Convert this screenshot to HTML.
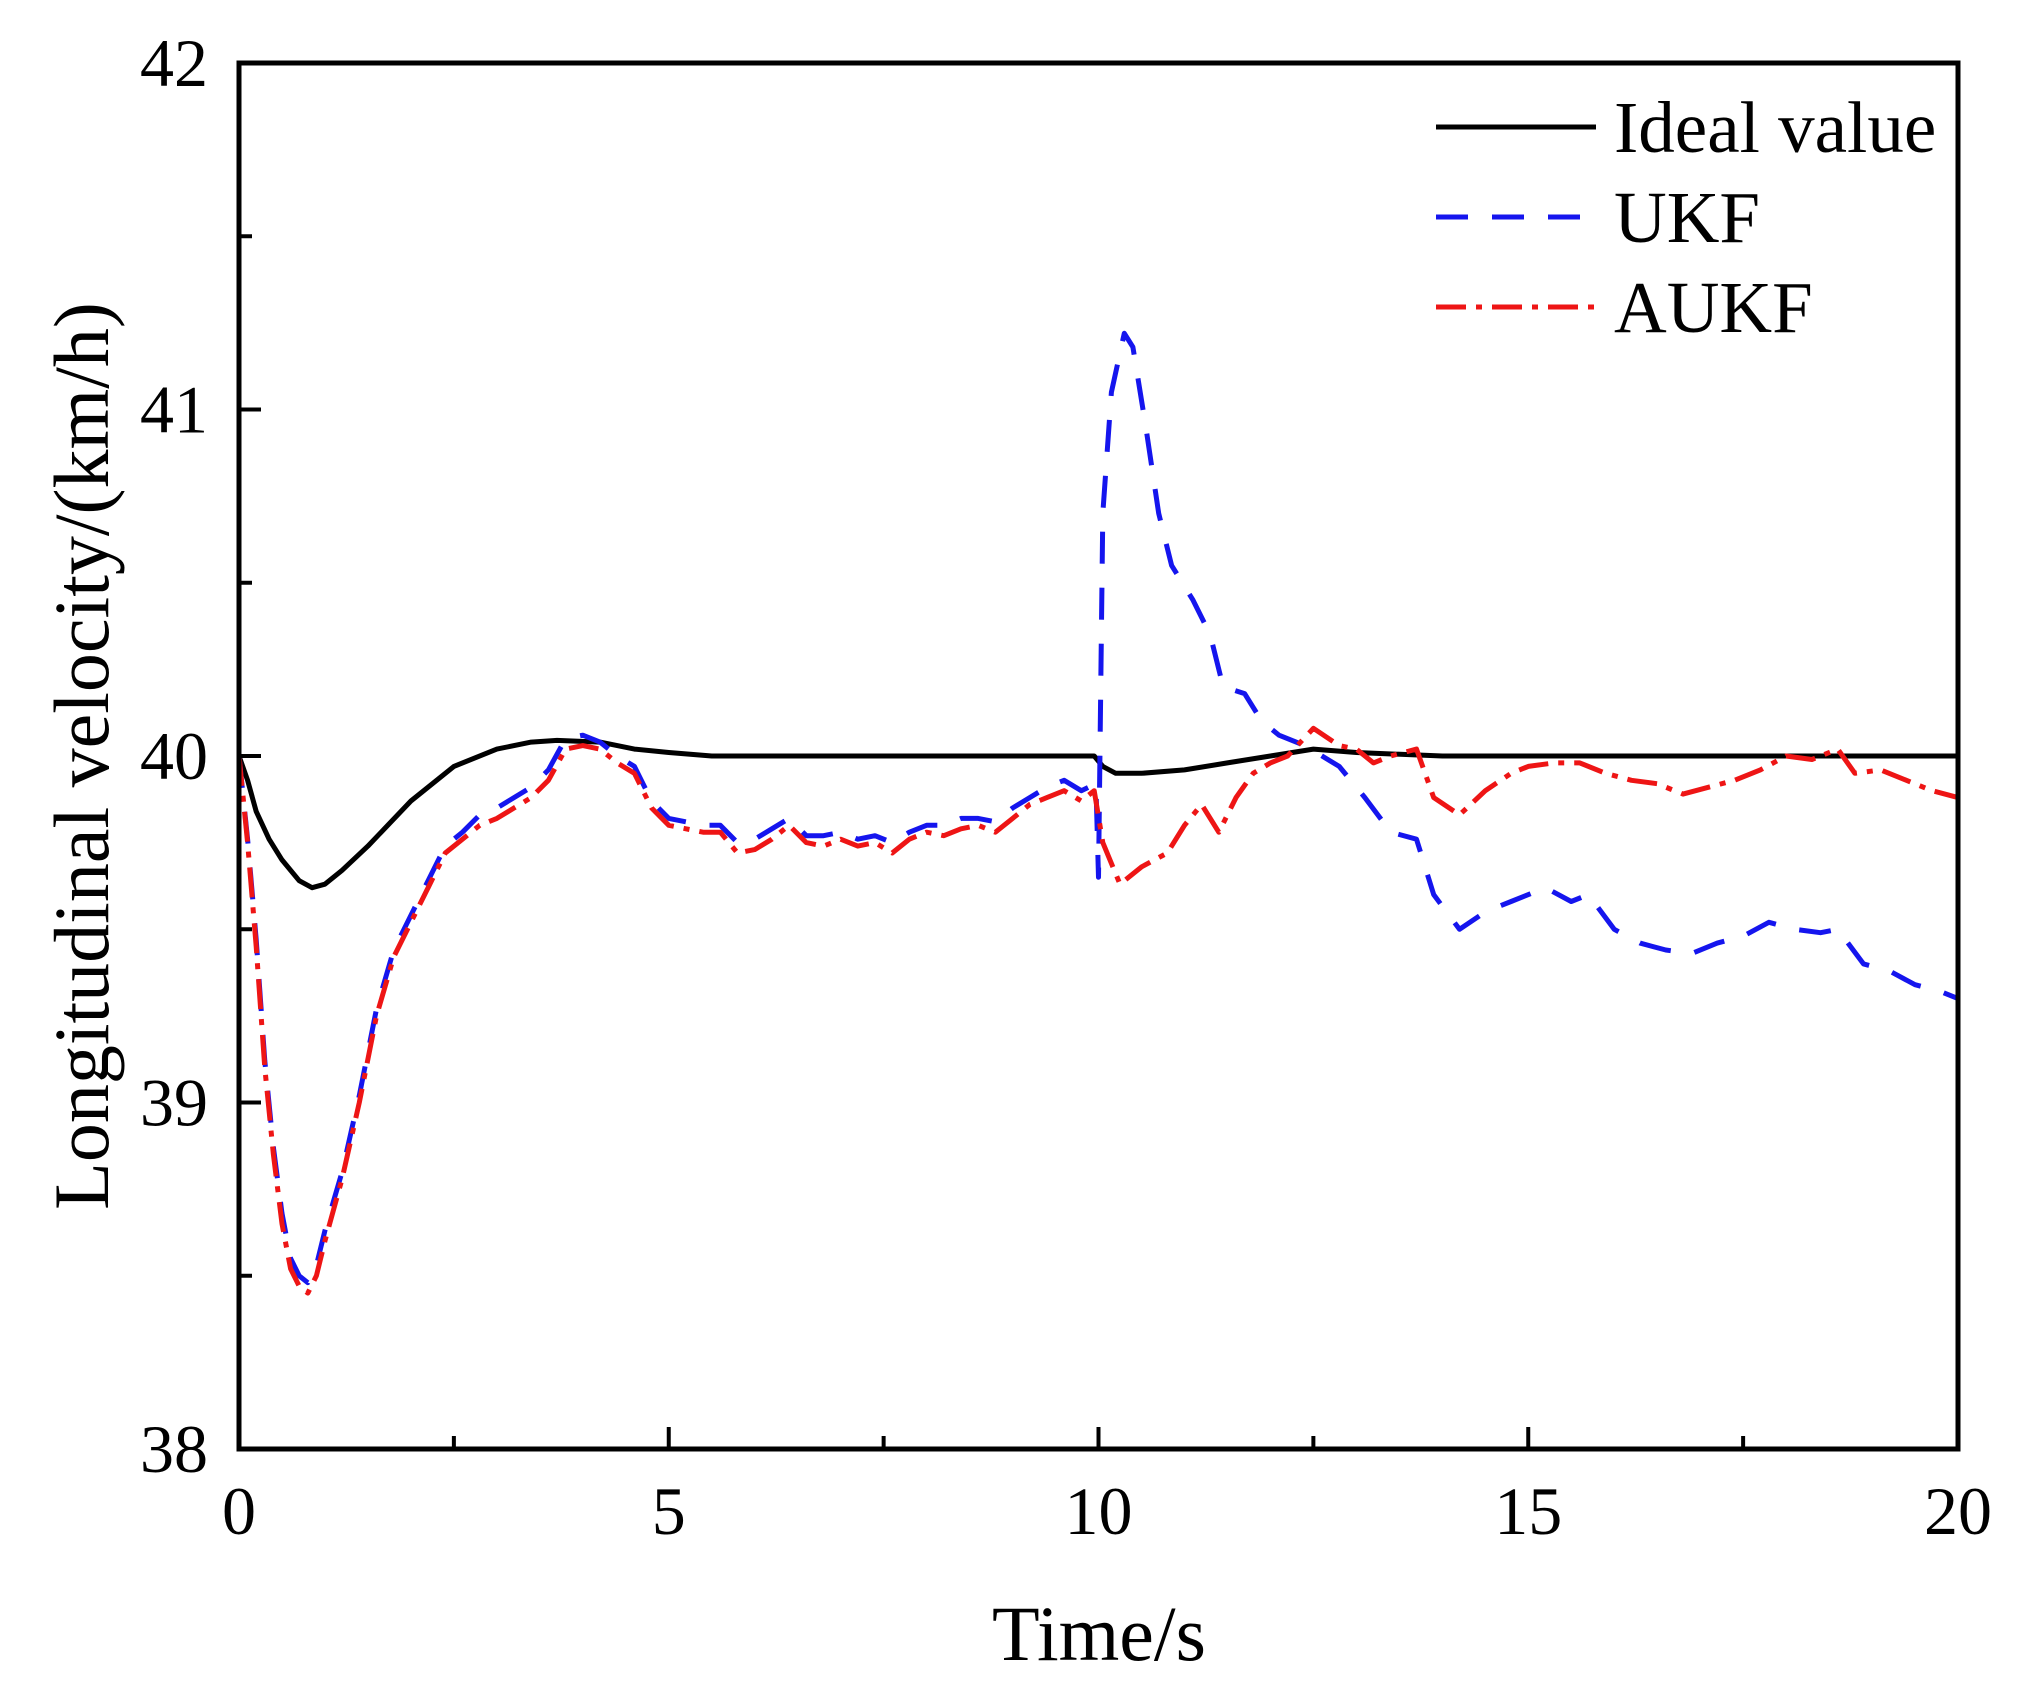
<!DOCTYPE html>
<html><head><meta charset="utf-8"><style>
html,body{margin:0;padding:0;background:#fff;}
svg{display:block;font-family:"Liberation Serif",serif;}
</style></head><body>
<svg id="chart" width="2019" height="1692" viewBox="0 0 2019 1692">
<g id="series"></g>
<rect x="239" y="63" width="1719" height="1386" fill="none" stroke="#000" stroke-width="5"/>
<g id="ticks"></g>
<text x="1099" y="1660" font-size="78" text-anchor="middle">Time/s</text>
<text transform="translate(108,756) rotate(-90)" font-size="78" text-anchor="middle">Longitudinal velocity/(km/h)</text>
<g>
<line x1="1436" y1="127" x2="1596" y2="127" stroke="#000" stroke-width="5"/>
<text x="1614" y="152" font-size="73">Ideal value</text>
<line x1="1436" y1="217" x2="1596" y2="217" stroke="#1515ee" stroke-width="5" stroke-dasharray="32,24"/>
<text x="1614" y="242" font-size="73">UKF</text>
<line x1="1436" y1="307" x2="1596" y2="307" stroke="#ee1515" stroke-width="5" stroke-dasharray="30,10,6,10"/>
<text x="1614" y="332" font-size="73">AUKF</text>
</g>
</svg>
<script>
const idealT=[0,0.1,0.2,0.35,0.5,0.7,0.85,1.0,1.2,1.5,2.0,2.5,3.0,3.4,3.7,4.2,4.6,5.0,5.5,6.0,7,8,9,9.95,10.05,10.2,10.5,11,11.5,12,12.5,13,14,20];
const idealV=[40,39.93,39.84,39.76,39.7,39.64,39.62,39.63,39.67,39.74,39.87,39.97,40.02,40.04,40.045,40.04,40.02,40.01,40.0,40.0,40.0,40.0,40.0,40.0,39.97,39.95,39.95,39.96,39.98,40.0,40.02,40.01,40.0,40.0];
const aukfT=[0,0.1,0.2,0.3,0.4,0.5,0.6,0.7,0.8,0.9,1.0,1.2,1.4,1.6,1.8,2.0,2.2,2.4,2.6,2.8,3.0,3.2,3.4,3.6,3.8,4.0,4.2,4.4,4.6,4.8,5.0,5.2,5.4,5.6,5.8,6.0,6.2,6.4,6.6,6.8,7.0,7.2,7.4,7.6,7.8,8.0,8.2,8.4,8.6,8.8,9.0,9.2,9.4,9.6,9.8,9.95,10.05,10.25,10.5,10.8,11.0,11.2,11.4,11.6,11.8,12.0,12.2,12.5,12.8,13.0,13.2,13.4,13.7,13.9,14.2,14.5,14.8,15.0,15.3,15.6,15.9,16.2,16.5,16.8,17.1,17.4,17.7,18.0,18.3,18.6,18.8,19.1,19.4,19.7,20.0];
const aukfV=[40.0,39.75,39.45,39.1,38.85,38.65,38.52,38.47,38.45,38.5,38.6,38.78,39.0,39.25,39.42,39.52,39.62,39.72,39.76,39.8,39.82,39.85,39.88,39.93,40.02,40.03,40.02,39.98,39.95,39.85,39.8,39.79,39.78,39.78,39.72,39.73,39.76,39.8,39.75,39.74,39.76,39.74,39.75,39.72,39.76,39.78,39.77,39.79,39.8,39.78,39.82,39.86,39.88,39.9,39.87,39.9,39.75,39.63,39.68,39.72,39.8,39.86,39.78,39.88,39.95,39.98,40.0,40.08,40.03,40.02,39.98,40.0,40.02,39.88,39.83,39.9,39.95,39.97,39.98,39.98,39.95,39.93,39.92,39.89,39.91,39.93,39.96,40.0,39.99,40.02,39.95,39.96,39.93,39.9,39.88];
const ukfT=[0,0.1,0.2,0.3,0.4,0.5,0.6,0.7,0.8,0.9,1.0,1.2,1.4,1.6,1.8,2.0,2.2,2.4,2.6,2.8,3.0,3.2,3.4,3.6,3.8,4.0,4.2,4.4,4.6,4.8,5.0,5.2,5.4,5.6,5.8,6.0,6.2,6.4,6.6,6.8,7.0,7.2,7.4,7.6,7.8,8.0,8.2,8.4,8.6,8.8,9.0,9.2,9.4,9.6,9.8,9.97,10.0,10.05,10.15,10.3,10.4,10.55,10.7,10.85,11.1,11.3,11.45,11.7,11.9,12.1,12.4,12.8,13.1,13.4,13.7,13.9,14.2,14.5,14.8,15.2,15.5,15.7,16.0,16.3,16.6,16.9,17.2,17.5,17.8,18.1,18.4,18.6,18.9,19.2,19.5,19.8,20.0];
const ukfV=[40.0,39.76,39.47,39.12,38.87,38.68,38.55,38.5,38.48,38.53,38.63,38.8,39.02,39.27,39.44,39.54,39.64,39.74,39.78,39.83,39.85,39.88,39.91,39.96,40.05,40.06,40.04,40.0,39.97,39.87,39.82,39.81,39.8,39.8,39.75,39.76,39.79,39.82,39.77,39.77,39.78,39.76,39.77,39.75,39.78,39.8,39.8,39.82,39.82,39.81,39.85,39.88,39.91,39.93,39.9,39.92,39.65,40.7,41.05,41.22,41.18,40.95,40.7,40.55,40.45,40.35,40.2,40.18,40.1,40.06,40.03,39.97,39.88,39.78,39.76,39.6,39.5,39.55,39.58,39.62,39.58,39.6,39.5,39.46,39.44,39.43,39.46,39.48,39.52,39.5,39.49,39.5,39.4,39.38,39.34,39.32,39.3];
const xTicks=[0,5,10,15,20];
const yTicks=[38,39,40,41,42];
const xs=t=>239+t*(1719/20);
const ys=v=>1449-(v-38)*(1386/4);
const NS="http://www.w3.org/2000/svg";
const sg=document.getElementById('series');
function addLine(T,V,color,dash,name){
  const p=document.createElementNS(NS,'path');
  p.setAttribute('d',T.map((t,i)=>(i?'L':'M')+xs(t).toFixed(1)+','+ys(V[i]).toFixed(1)).join(''));
  p.setAttribute('fill','none');p.setAttribute('stroke',color);p.setAttribute('stroke-width','5');
  p.setAttribute('stroke-linejoin','round');
  if(dash)p.setAttribute('stroke-dasharray',dash);
  
  
  sg.appendChild(p);
}
addLine(idealT,idealV,'#000',null,'ideal-value-line');
addLine(ukfT,ukfV,'#1515ee','32,24','ukf-line');
addLine(aukfT,aukfV,'#ee1515','30,10,6,10','aukf-line');
const tg=document.getElementById('ticks');
function mk(tag,attrs){const e=document.createElementNS(NS,tag);for(const k in attrs)e.setAttribute(k,attrs[k]);tg.appendChild(e);return e;}
for(let i=0;i<xTicks.length;i++){
  const x=xs(xTicks[i]);
  const l=mk('line',{x1:x,y1:1449,x2:x,y2:1427,stroke:'#000','stroke-width':4});
  
  
  const t=mk('text',{x:x,y:1534,'font-size':68,'text-anchor':'middle'});t.textContent=xTicks[i];
  
  
  if(i<xTicks.length-1){const xm=xs(xTicks[i]+2.5);
    const m=mk('line',{x1:xm,y1:1449,x2:xm,y2:1436,stroke:'#000','stroke-width':4});
    
    }
}
for(let i=0;i<yTicks.length;i++){
  const y=ys(yTicks[i]);
  const l=mk('line',{x1:239,y1:y,x2:261,y2:y,stroke:'#000','stroke-width':4});
  
  
  const t=mk('text',{x:208,y:y+23,'font-size':68,'text-anchor':'end'});t.textContent=yTicks[i];
  
  
  if(i<yTicks.length-1){const ym=ys(yTicks[i]+0.5);
    const m=mk('line',{x1:239,y1:ym,x2:252,y2:ym,stroke:'#000','stroke-width':4});
    
    }
}
</script>
</body></html>
